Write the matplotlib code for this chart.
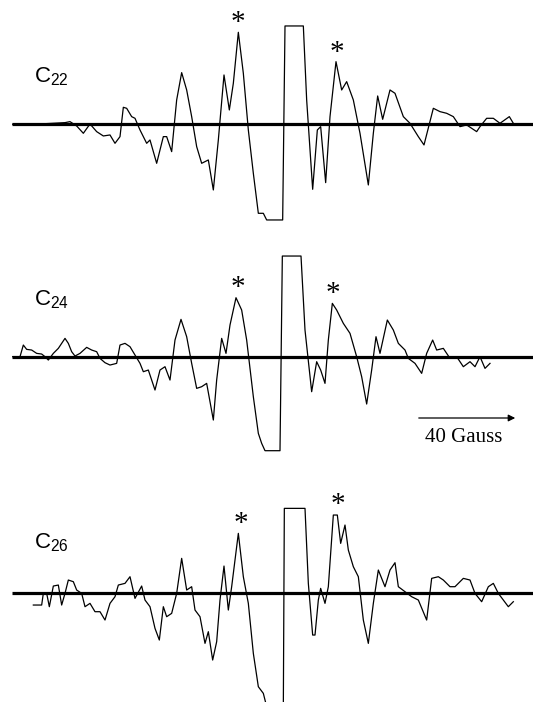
import numpy as np
import matplotlib.pyplot as plt

# EPR spectra, field in arbitrary units, signal relative to baseline
field_22 = [38, 100, 195, 210, 230, 250, 270, 290, 310, 330, 345, 360, 370, 380, 395, 405, 420, 440, 450, 470,
            490, 500, 515, 530, 545, 560, 575, 590, 605, 625, 640, 655, 672, 688, 700, 715, 730, 745, 760, 775,
            790, 800, 848, 855, 910, 920, 938, 952, 962, 977, 990, 1008, 1025, 1040, 1060, 1080, 1105, 1120,
            1133, 1148, 1170, 1185, 1210, 1230, 1255, 1272, 1300, 1320, 1340, 1360, 1380, 1400, 1430, 1440,
            1460, 1480, 1500, 1528, 1540]
sig_22 = [0, 0, 5, 8, -5, -27, 1, -22, -35, -32, -57, -37, 51, 48, 23, 18, -17, -57, -47, -117,
          -37, -37, -82, 73, 155, 103, 23, -67, -117, -107, -197, -47, 148, 43, 123, 276, 153, -17, -147, -267,
          -267, -287, -287, 295, 295, 73, -195, -17, -7, -175, 23, 188, 103, 128, 73, -27, -182, -27,
          85, 15, 103, 93, 23, 3, -37, -62, 48, 38, 33, 23, -7, -2, -22, -7,
          18, 18, 3, 23, 3]

field_24 = [38, 60, 70, 80, 95, 110, 125, 135, 145, 160, 175, 195, 205, 215, 225, 240, 260, 275, 290, 300,
            315, 330, 350, 360, 375, 390, 405, 420, 430, 445, 465, 480, 495, 510, 525, 543, 560, 575, 590, 605,
            620, 640, 650, 665, 678, 690, 708, 725, 740, 760, 775, 785, 795, 840, 847, 903, 915, 935, 950, 962,
            975, 985, 997, 1010, 1030, 1050, 1070, 1085, 1100, 1115, 1128, 1140, 1162, 1180, 1195, 1215, 1225,
            1245, 1265, 1280, 1298, 1310, 1330, 1350, 1370, 1390, 1410, 1425, 1440, 1455, 1470]
sig_24 = [0, 0, 35, 22, 20, 10, 8, 0, -10, 10, 25, 55, 40, 15, 2, 10, 28, 20, 15, -5,
          -18, -25, -20, 35, 40, 30, 5, -20, -45, -40, -100, -40, -30, -70, 50, 112, 60, -20, -95, -90,
          -80, -190, -70, 55, 10, 95, 177, 140, 50, -120, -230, -260, -282, -282, 302, 302, 80, -105, -15, -40,
          -80, 50, 160, 140, 100, 70, 0, -60, -142, -40, 60, 10, 110, 80, 40, 20, -5,
          -20, -50, 10, 50, 20, 25, -5, 0, -30, -15, -30, 0, -35, -20]

field_26 = [100, 125, 130, 140, 148, 160, 175, 185, 195, 205, 220, 230, 245, 255, 270, 285, 300, 315, 330, 345,
            355, 375, 390, 405, 425, 435, 450, 465, 478, 490, 500, 515, 530, 545, 560, 575, 585, 600, 615, 625,
            638, 650, 660, 672, 685, 695, 715, 730, 745, 760, 775, 790, 800, 850, 853, 915, 925, 938, 945, 955,
            962, 975, 985, 1000, 1012, 1022, 1035, 1045, 1060, 1075, 1090, 1105, 1120, 1135, 1155, 1170, 1185,
            1195, 1215, 1235, 1255, 1280, 1295, 1315, 1330, 1350, 1365, 1390, 1410, 1425, 1445, 1465, 1480,
            1495, 1510, 1525, 1540]
sig_26 = [-37, -37, -2, -2, -42, 20, 23, -37, -2, 38, 33, 8, -2, -42, -32, -57, -57, -82, -32, -12,
          23, 28, 48, -17, 20, -22, -42, -107, -142, -42, -72, -62, -2, 103, 8, 18, -52, -72, -152, -117,
          -202, -147, -22, 80, -52, 18, 178, 48, -32, -182, -282, -302, -342, -342, 253, 253, 28, -127, -127, -22,
          13, -32, 18, 233, 233, 148, 203, 128, 78, 48, -82, -152, -32, 68, 18, 68, 90,
          18, 3, -12, -22, -82, 43, 48, 38, 18, 18, 43, 38, -2, -27, 18, 28,
          -2, -22, -42, -27]

labels = ['22', '24', '26']
fields = [field_22, field_24, field_26]
signals = [sig_22, sig_24, sig_26]
baselines = [124.3, 356.7, 592.7]
label_y = [77, 300, 543]
stars = [[(238, 18), (337, 48)], [(238, 283), (333, 289)], [(241, 519), (338, 500)]]

fig = plt.figure(figsize=(5.33, 7.02), dpi=100)
ax = fig.add_axes([0, 0, 1, 1])
ax.set_xlim(0, 533)
ax.set_ylim(702, 0)
ax.axis('off')

for i in range(3):
    f = np.array(fields[i]) / 3.0
    s = np.array(signals[i]) / 3.0
    b = baselines[i]
    ax.plot([12, 533], [b, b], color='black', lw=2.3, solid_capstyle='butt')
    ax.plot(f, b - s, color='black', lw=0.9, solid_joinstyle='round')
    ax.text(34, label_y[i], r'$\mathregular{C_{' + labels[i] + '}}$', fontsize=16,
            family='Liberation Sans', ha='left', va='center')
    for (sx, sy) in stars[i]:
        ax.text(sx, sy + 5, '*', fontsize=21, family='Liberation Serif', ha='center', va='center')

# scale arrow
ax.annotate('', xy=(518, 418), xytext=(416, 418),
            arrowprops=dict(arrowstyle='-|>', color='black', lw=0.9, mutation_scale=10))
ax.text(464, 437, '40 Gauss', fontsize=15, family='Liberation Serif', ha='center', va='center')

fig.savefig('out.png', dpi=100)
